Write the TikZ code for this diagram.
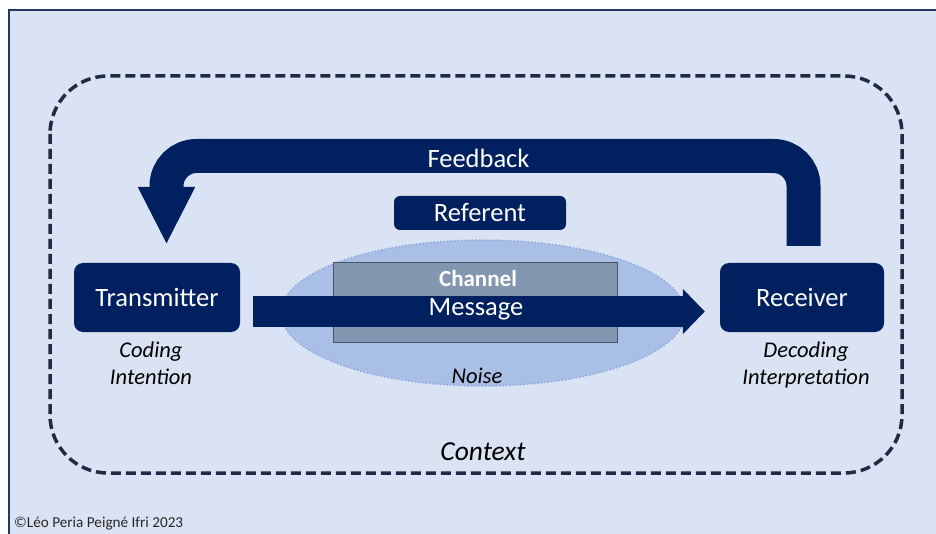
\documentclass[tikz,border=0pt]{standalone}
\usepackage{fontspec}
\setmainfont{Carlito}
\usetikzlibrary{arrows.meta,shapes.geometric,calc}
\definecolor{slidebg}{HTML}{DAE3F3}
\definecolor{slideline}{HTML}{203864}
\definecolor{navy}{HTML}{002060}
\definecolor{dashc}{HTML}{1F2A44}
\definecolor{noisefill}{HTML}{AABFE6}
\definecolor{noiseline}{HTML}{8FAADC}
\definecolor{chanfill}{HTML}{8497B0}
\definecolor{chanline}{HTML}{44546A}
\definecolor{copyc}{HTML}{262626}
\tikzset{
  navybox/.style={fill=navy, text=white, rounded corners=9pt, inner sep=0pt,
    font=\fontsize{26.5}{31}\selectfont},
  italabel/.style={font=\itshape\fontsize{22.5}{27}\selectfont, align=center, text=black, inner sep=0pt},
  bigarrow/.style={draw=navy, line cap=butt},
}
\begin{document}
\begin{tikzpicture}[x=1pt,y=-1pt]
\useasboundingbox (0,0) rectangle (936,534);
\fill[white] (0,0) rectangle (936,534);
\fill[slidebg] (9,10) rectangle (936,534);
\draw[slideline, line width=1.4pt] (9,534) -- (9,10) -- (936,10);

% context frame
\draw[dashc, line width=3.5pt, dash pattern=on 10pt off 5pt, rounded corners=58pt]
  (50,76) rectangle (902,473);
\node[italabel, font=\itshape\fontsize{27.5}{32}\selectfont] (context) at (483,452) {Context};

% noise ellipse and channel
\node[ellipse, fill=noisefill, draw=noiseline, line width=1.5pt, dotted,
  minimum width=404pt, minimum height=146pt, inner sep=0pt] (noise) at (483,313) {};
\node[italabel] (noiselbl) at (477,376) {Noise};
\node[rectangle, fill=chanfill, draw=chanline, line width=1pt,
  minimum width=284pt, minimum height=79pt, inner sep=0pt] (chan) at (475,302.5) {};
\node[text=white, font=\bfseries\fontsize{23}{28}\selectfont, inner sep=0pt] (chanlbl) at (478,279) {Channel};

% main boxes
\node[navybox, minimum width=166pt, minimum height=69pt] (tx) at (157,297.5) {Transmitter};
\node[navybox, minimum width=164pt, minimum height=69pt] (rx) at (802,297.5) {Receiver};
\node[navybox, rounded corners=6pt, minimum width=172pt, minimum height=34pt] (ref) at (480,213) {Referent};

% message arrow
\coordinate (ms) at ($(tx.east)+(13,14)$);
\coordinate (me) at ($(rx.west)+(-15,14)$);
\draw[bigarrow, line width=31pt, -{Triangle[width=44pt,length=22pt]}] (ms) -- (me);
\node[text=white, font=\fontsize{26.5}{31}\selectfont, inner sep=0pt] (msglbl) at (476,309) {Message};

% feedback arrow
\coordinate (fs) at ($(rx.north)+(1.5,-17)$);
\coordinate (fe) at ($(tx.north)+(9.5,-18)$);
\draw[bigarrow, line width=34pt, rounded corners=30pt, -{Triangle[width=53pt,length=58pt]}]
  (fs) -- (fs|-0,156) -- (fe|-0,156) -- (fe);
\node[text=white, font=\fontsize{26.5}{31}\selectfont, inner sep=0pt] (fblbl) at (478.5,158) {Feedback};

% labels
\node[italabel, anchor=north] (coding) at (151,342) {Coding\\Intention};
\node[italabel, anchor=north] (decoding) at (806,342) {Decoding\\Interpretation};

\node[anchor=base west, text=copyc, font=\fontsize{15.2}{17}\selectfont, inner sep=0pt] (copy) at (14,527) {©Léo Peria Peigné Ifri 2023};
\end{tikzpicture}
\end{document}
